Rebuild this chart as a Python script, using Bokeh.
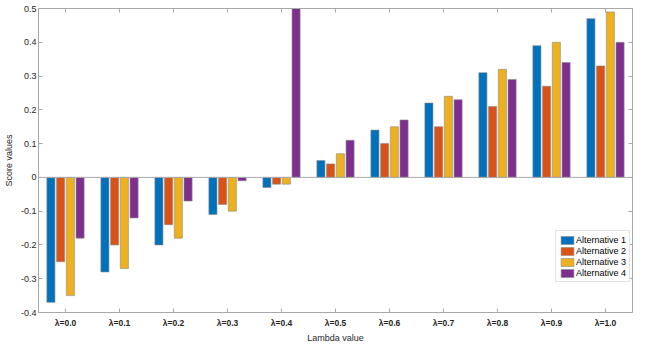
from bokeh.plotting import figure
from bokeh.models import (ColumnDataSource, FactorRange, Range1d, LinearAxis, CategoricalAxis,
                          FixedTicker, PrintfTickFormatter, Span, Legend, LegendItem)
from bokeh.transform import dodge
from bokeh.embed import file_html
from bokeh.resources import INLINE

lambdas = ["λ=0.0", "λ=0.1", "λ=0.2", "λ=0.3", "λ=0.4", "λ=0.5",
           "λ=0.6", "λ=0.7", "λ=0.8", "λ=0.9", "λ=1.0"]
alt1 = [-0.37, -0.28, -0.20, -0.11, -0.03, 0.05, 0.14, 0.22, 0.31, 0.39, 0.47]
alt2 = [-0.25, -0.20, -0.14, -0.08, -0.02, 0.04, 0.10, 0.15, 0.21, 0.27, 0.33]
alt3 = [-0.35, -0.27, -0.18, -0.10, -0.02, 0.07, 0.15, 0.24, 0.32, 0.40, 0.49]
alt4 = [-0.18, -0.12, -0.07, -0.01, 0.50, 0.11, 0.17, 0.23, 0.29, 0.34, 0.40]
series_names = ["Alternative 1", "Alternative 2", "Alternative 3", "Alternative 4"]
colors = ["#0072BD", "#D95319", "#EDB120", "#7E2F8E"]
y_ticks = [-0.4, -0.3, -0.2, -0.1, 0.0, 0.1, 0.2, 0.3, 0.4, 0.5]

FONT = "Liberation Sans"
AXC = "#a8a8a8"
TXT = "#262626"

source = ColumnDataSource(dict(x=lambdas, a1=alt1, a2=alt2, a3=alt3, a4=alt4))

p = figure(x_range=FactorRange(*lambdas), y_range=Range1d(-0.4, 0.5),
           frame_width=594, frame_height=304, output_backend="svg", toolbar_location=None,
           min_border_left=37, min_border_right=2, min_border_top=8, min_border_bottom=24)
p.xgrid.visible = False
p.ygrid.visible = False
p.outline_line_color = AXC
p.background_fill_color = "white"
p.border_fill_color = "white"

offsets = [-0.27, -0.09, 0.09, 0.27]
keys = ["a1", "a2", "a3", "a4"]
items = []
for k, off, c, name in zip(keys, offsets, colors, series_names):
    r = p.vbar(x=dodge("x", off, range=p.x_range), top=k, bottom=0, width=0.15,
               source=source, fill_color=c, line_color="#8a8a8a", line_width=0.6)
    items.append(LegendItem(label=name, renderers=[r]))

p.add_layout(Span(location=0, dimension="width", line_color=AXC, line_width=1))

# bottom axis
xa = p.xaxis[0]
xa.axis_label = "Lambda value"
xa.axis_label_text_font = FONT
xa.axis_label_text_font_size = "9px"
xa.axis_label_text_font_style = "normal"
xa.axis_label_text_color = TXT
xa.axis_label_standoff = 2
xa.major_label_text_font = FONT
xa.major_label_text_font_size = "8.5px"
xa.major_label_text_font_style = "bold"
xa.major_label_text_color = TXT
xa.major_label_standoff = 5
xa.axis_line_color = AXC
xa.major_tick_line_color = AXC
xa.major_tick_in = 4
xa.major_tick_out = 0

# left axis
ya = p.yaxis[0]
ya.ticker = FixedTicker(ticks=y_ticks)
ya.formatter = PrintfTickFormatter(format="%g")
ya.axis_label = "Score values"
ya.axis_label_text_font = FONT
ya.axis_label_text_font_size = "9px"
ya.axis_label_text_font_style = "normal"
ya.axis_label_text_color = TXT
ya.axis_label_standoff = 4
ya.major_label_text_font = FONT
ya.major_label_text_font_size = "9px"
ya.major_label_text_color = TXT
ya.major_label_standoff = 2
ya.axis_line_color = AXC
ya.major_tick_line_color = AXC
ya.major_tick_in = 4
ya.major_tick_out = 0
ya.minor_tick_line_color = None

# box ticks: top and right (labels not drawn)
top_axis = CategoricalAxis(major_label_text_font_size="1px", major_label_text_color=None,
                           major_label_standoff=0,
                           axis_line_color=AXC, major_tick_line_color=AXC,
                           major_tick_in=4, major_tick_out=0)
p.add_layout(top_axis, "above")
right_axis = LinearAxis(ticker=FixedTicker(ticks=y_ticks), major_label_text_font_size="1px",
                        major_label_text_color=None,
                        major_label_standoff=0, axis_line_color=AXC, major_tick_line_color=AXC,
                        major_tick_in=4, major_tick_out=0, minor_tick_line_color=None)
p.add_layout(right_axis, "right")

legend = Legend(items=items, location=(517, 30), orientation="vertical",
                label_text_font=FONT, label_text_font_size="9px", label_text_color="black",
                label_height=11, label_standoff=1, glyph_width=16, glyph_height=10,
                spacing=0, padding=3, margin=0,
                border_line_color="#c8c8c8", background_fill_alpha=1.0)
p.add_layout(legend, "center")

open("out.html", "w").write(file_html(p, INLINE))
